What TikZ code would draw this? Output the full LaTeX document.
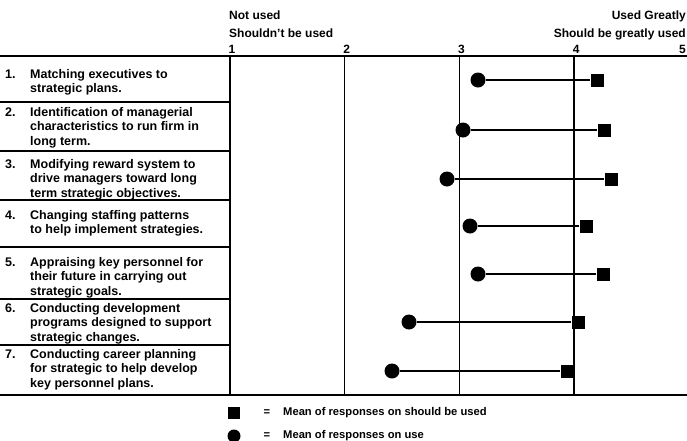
\documentclass[tikz,border=0pt]{standalone}
\usepackage{fontspec}
\setmainfont{Liberation Sans}
\begin{document}
\begin{tikzpicture}[x=1pt,y=-1pt,
    every node/.style={font=\bfseries\fontsize{12}{14.5}\selectfont, inner sep=0pt},
    item/.style={anchor=north west, align=left, font=\bfseries\fontsize{12.5}{14.5}\selectfont},
    key/.style={font=\bfseries\fontsize{11.2}{12}\selectfont},
    usemark/.style={circle, fill=black, minimum size=15pt},
    shouldmark/.style={rectangle, fill=black, minimum size=13pt},
    rule/.style={line width=1.6pt},
    grid/.style={line width=1.4pt}]
  \useasboundingbox (0,0) rectangle (687,440);
  % scale heading
  \node[anchor=base west] (notused) at (229,19) {Not used};
  \node[anchor=base west] (shouldnt) at (229,37) {Shouldn't be used};
  \node[anchor=base east] (greatly) at (686,19) {Used Greatly};
  \node[anchor=base east] (shouldbe) at (686,37) {Should be greatly used};
  \foreach \v in {1,...,4}
    \node[anchor=base] (d\v) at ({230+(\v-1)*114.7+2},53) {\v};
  \node[anchor=base east] (d5) at (686,53) {5};
  % table lines
  \draw[rule] (0,56) -- (687,56);
  \draw[rule] (0,395) -- (687,395);
  \foreach \y in {102,151,200,247,299,345}
    \draw[line width=1.3pt] (0,\y) -- (230,\y);
  \foreach \x in {230,344.7,459.4,574.1}
    \draw[grid] (\x,56) -- (\x,395);
  % items
  \node[item] (n1) at (5,68) {\strut1.};
  \node[item] (t1) at (30,68) {\strut Matching executives to\\strategic plans.};
  \node[item] (n2) at (5,106) {\strut2.};
  \node[item] (t2) at (30,106) {\strut Identification of managerial\\characteristics to run firm in\\long term.};
  \node[item] (n3) at (5,158) {\strut3.};
  \node[item] (t3) at (30,158) {\strut Modifying reward system to\\drive managers toward long\\term strategic objectives.};
  \node[item] (n4) at (5,209) {\strut4.};
  \node[item] (t4) at (30,209) {\strut Changing staffing patterns\\to help implement strategies.};
  \node[item] (n5) at (5,256) {\strut5.};
  \node[item] (t5) at (30,256) {\strut Appraising key personnel for\\their future in carrying out\\strategic goals.};
  \node[item] (n6) at (5,302) {\strut6.};
  \node[item] (t6) at (30,302) {\strut Conducting development\\programs designed to support\\strategic changes.};
  \node[item] (n7) at (5,348) {\strut7.};
  \node[item] (t7) at (30,348) {\strut Conducting career planning\\for strategic to help develop\\key personnel plans.};
  % means: use (circle) and should be used (square)
  \node[usemark] (u1) at (478,80) {};
  \node[shouldmark] (s1) at (597,80) {};
  \node[usemark] (u2) at (463,130) {};
  \node[shouldmark] (s2) at (604,130) {};
  \node[usemark] (u3) at (447,179) {};
  \node[shouldmark] (s3) at (611,179) {};
  \node[usemark] (u4) at (470,226) {};
  \node[shouldmark] (s4) at (586,226) {};
  \node[usemark] (u5) at (478,274) {};
  \node[shouldmark] (s5) at (603,274) {};
  \node[usemark] (u6) at (409,322) {};
  \node[shouldmark] (s6) at (578,322) {};
  \node[usemark] (u7) at (392,371) {};
  \node[shouldmark] (s7) at (567,371) {};
  \begin{scope}[line width=2pt]
    \draw (u1) -- (s1);
    \draw (u2) -- (s2);
    \draw (u3) -- (s3);
    \draw (u4) -- (s4);
    \draw (u5) -- (s5);
    \draw (u6) -- (s6);
    \draw (u7) -- (s7);
  \end{scope}
  % key
  \node[shouldmark, minimum size=12pt] (keysq) at (234,413) {};
  \node[key] (keyeq1) at (267,413) {=};
  \node[key, anchor=west] (keytxt1) at (283,413) {Mean of responses on should be used};
  \node[usemark, minimum size=13pt] (keycirc) at (234,436) {};
  \node[key] (keyeq2) at (267,436) {=};
  \node[key, anchor=west] (keytxt2) at (283,436) {Mean of responses on use};
\end{tikzpicture}
\end{document}
